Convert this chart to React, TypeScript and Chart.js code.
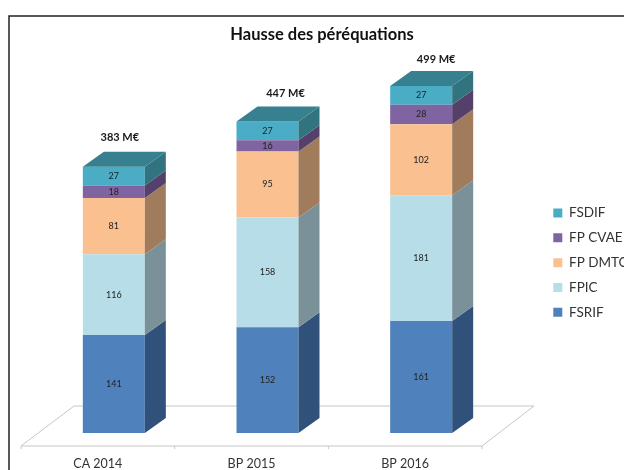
import React, { useEffect, useRef } from "react";
import { Chart, registerables } from "chart.js";

Chart.register(...registerables);

const categories = ["CA 2014", "BP 2015", "BP 2016"];
const fsrif = [141, 152, 161];
const fpic = [116, 158, 181];
const fpDmto = [81, 95, 102];
const fpCvae = [18, 16, 28];
const fsdif = [27, 27, 27];
const totals = ["383 M€", "447 M€", "499 M€"];
const seriesNames = ["FSRIF", "FPIC", "FP DMTC", "FP CVAE", "FSDIF"];

const FONT = "Lato, Carlito, 'Open Sans', sans-serif";
const frontColors = ["#4F81BD", "#B7DEE8", "#FAC090", "#8064A2", "#4BACC6"];
const sideColors = ["#30527A", "#7A9199", "#A07C5C", "#553F6B", "#31737F"];
const topColor = "#37808F";
const DEPTH_X = 21;
const DEPTH_Y = 15;
const FLOOR_OUT_X = 16;
const FLOOR_OUT_Y = 13;
const FLOOR_DEPTH_X = 52;
const FLOOR_DEPTH_Y = 40;
const totalOffsetX = [6, 18, 15];
const totalOffsetY = [-29, -28, -27];

const poly = (ctx: CanvasRenderingContext2D, pts: number[][], fill: string) => {
  ctx.beginPath();
  pts.forEach((p, i) => (i ? ctx.lineTo(p[0], p[1]) : ctx.moveTo(p[0], p[1])));
  ctx.closePath();
  ctx.fillStyle = fill;
  ctx.fill();
};

const bar3d = {
  id: "bar3d",
  beforeDraw(chart: any) {
    const ctx = chart.ctx as CanvasRenderingContext2D;
    if (chart.legend) {
      const h = chart.legend.bottom - chart.legend.top;
      chart.legend.left = 542;
      chart.legend.right = 624;
      chart.legend.top = 195;
      chart.legend.bottom = 195 + Math.max(h, 140);
    }
    if (chart.titleBlock) {
      chart.titleBlock.left = 20;
      chart.titleBlock.right = 624;
    }
    ctx.save();
    ctx.strokeStyle = "#222222";
    ctx.lineWidth = 1.5;
    ctx.beginPath();
    ctx.moveTo(9, 470);
    ctx.lineTo(9, 16);
    ctx.lineTo(624, 16);
    ctx.stroke();
    ctx.restore();
  },
  beforeDatasetsDraw(chart: any) {
    const ctx = chart.ctx as CanvasRenderingContext2D;
    const x = chart.scales.x;
    const y0 = chart.scales.y.getPixelForValue(0);
    const step = x.getPixelForValue(1) - x.getPixelForValue(0);
    const left = x.getPixelForValue(0) - step / 2 - FLOOR_OUT_X;
    const right = x.getPixelForValue(categories.length - 1) + step / 2 - FLOOR_OUT_X;
    const fy = y0 + FLOOR_OUT_Y;
    ctx.save();
    ctx.strokeStyle = "#C6C6C6";
    ctx.lineWidth = 1;
    ctx.beginPath();
    ctx.moveTo(left, fy);
    ctx.lineTo(right, fy);
    ctx.lineTo(right + FLOOR_DEPTH_X, fy - FLOOR_DEPTH_Y);
    ctx.lineTo(left + FLOOR_DEPTH_X + 1, fy - FLOOR_DEPTH_Y);
    ctx.closePath();
    for (let i = 0; i <= categories.length; i++) {
      ctx.moveTo(left + i * step, fy);
      ctx.lineTo(left + i * step, fy + 3);
    }
    ctx.stroke();
    ctx.restore();
  },
  afterDatasetsDraw(chart: any) {
    const ctx = chart.ctx as CanvasRenderingContext2D;
    ctx.save();
    ctx.textAlign = "center";
    ctx.textBaseline = "middle";
    const n = chart.data.datasets.length;
    chart.data.datasets.forEach((ds: any, d: number) => {
      const meta = chart.getDatasetMeta(d);
      meta.data.forEach((el: any, i: number) => {
        const xr = el.x + el.width / 2;
        const xl = el.x - el.width / 2;
        poly(
          ctx,
          [
            [xr, el.y],
            [xr, el.base],
            [xr + DEPTH_X, el.base - DEPTH_Y],
            [xr + DEPTH_X, el.y - DEPTH_Y],
          ],
          sideColors[d]
        );
        if (d === n - 1) {
          poly(
            ctx,
            [
              [xl, el.y],
              [xr, el.y],
              [xr + DEPTH_X, el.y - DEPTH_Y],
              [xl + DEPTH_X, el.y - DEPTH_Y],
            ],
            topColor
          );
          ctx.font = `bold 11px ${FONT}`;
          ctx.fillStyle = "#1a1a1a";
          ctx.fillText(totals[i], el.x + totalOffsetX[i], el.y + totalOffsetY[i]);
        }
        ctx.font = `9px ${FONT}`;
        ctx.fillStyle = "#222222";
        ctx.fillText(String(ds.data[i]), el.x, (el.y + el.base) / 2);
      });
    });
    ctx.restore();
  },
};

export default function App() {
  const ref = useRef<HTMLCanvasElement>(null);
  useEffect(() => {
    const series = [fsrif, fpic, fpDmto, fpCvae, fsdif];
    const chart = new Chart(ref.current as HTMLCanvasElement, {
      type: "bar",
      data: {
        labels: categories,
        datasets: series.map((data, i) => ({
          label: seriesNames[i],
          data,
          backgroundColor: frontColors[i],
          borderWidth: 0,
          barPercentage: 0.4035,
          categoryPercentage: 1,
        })),
      },
      options: {
        animation: false,
        responsive: false,
        layout: { padding: { left: 37, right: 126, top: 14, bottom: -16 } },
        scales: {
          x: {
            stacked: true,
            grid: { display: false },
            border: { display: false },
            ticks: {
              labelOffset: -16,
              padding: 15,
              autoSkip: false,
              maxRotation: 0,
              color: "#333333",
              font: { family: FONT, size: 12.5 },
            },
          },
          y: { stacked: true, display: false, min: 0, max: 552.6 },
        },
        plugins: {
          tooltip: { enabled: false },
          title: {
            display: true,
            text: "Hausse des péréquations",
            color: "#111111",
            font: { family: FONT, size: 16.5, weight: "bold" },
            padding: { top: 11, bottom: 4 },
          },
          legend: {
            position: "chartArea",
            align: "start",
            reverse: true,
            labels: {
              boxWidth: 9,
              boxHeight: 9,
              padding: 11.3,
              color: "#333333",
              font: { family: FONT, size: 13.5 },
            },
          },
        },
      } as any,
      plugins: [bar3d as any],
    });
    return () => chart.destroy();
  }, []);
  return (
    <div style={{ position: "absolute", left: 0, top: 0, width: 624, height: 470, overflow: "hidden", background: "#fff" }}>
      <canvas ref={ref} width={624} height={470} style={{ display: "block" }} />
    </div>
  );
}
